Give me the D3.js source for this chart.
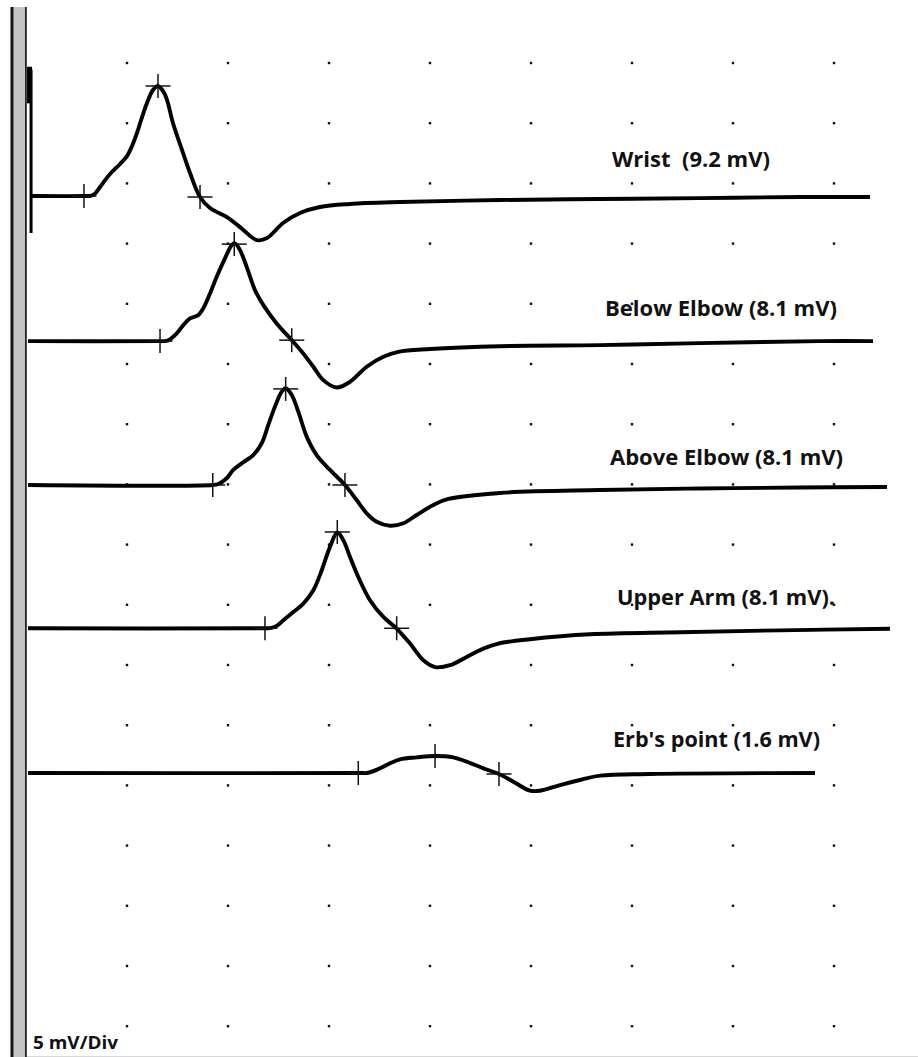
<!DOCTYPE html>
<html>
<head>
<meta charset="utf-8">
<script src="https://cdn.jsdelivr.net/npm/d3@7"></script>
<style>
  html, body { margin: 0; padding: 0; background: #fff; }
  svg { display: block; }
  text { font-family: "Open Sans", "Noto Sans", sans-serif; font-weight: 700; fill: #111; white-space: pre; }
</style>
</head>
<body>
<script>
// ---------------- DATA ----------------
// time in divisions, amplitude in mV (relative to each trace's baseline)
const traceNames = ["Wrist", "Below Elbow", "Above Elbow", "Upper Arm", "Erb's point"];
const traceLabels = ["Wrist  (9.2 mV)", "Below Elbow (8.1 mV)", "Above Elbow (8.1 mV)", "Upper Arm (8.1 mV).", "Erb's point (1.6 mV)"];
const baselineOffsets = [-11.05, -23.1, -35.05, -46.95, -58.97]; // mV, 5 mV/Div display
const sensitivityLabel = "5 mV/Div";

const gridTimes = [1, 2, 3, 4, 5, 6, 7, 8];
const gridLevels = [0, -5, -10, -15, -20, -25, -30, -35, -40, -45, -50, -55, -60, -65, -70, -75, -80];

const wristArtifactTop = [[0.035, 10.74], [0.035, 7.7]];
const wristArtifact = [[0.05, 10.5], [0.05, -3.07]];

const wristTrace = [
  [0.06, 0], [0.574, 0], [0.64, 0.02], [0.683, 0.2], [0.733, 0.75], [0.832, 1.83], [0.931, 2.66], [1.0, 3.32],
  [1.05, 4.16], [1.099, 5.24], [1.149, 6.56], [1.198, 7.73], [1.257, 8.81], [1.307, 9.14],
  [1.356, 8.73], [1.396, 7.98], [1.455, 6.07], [1.545, 3.82], [1.624, 1.91], [1.723, -0.08],
  [1.822, -1.0], [1.99, -1.75], [2.119, -2.58], [2.287, -3.66], [2.386, -3.49], [2.545, -2.24],
  [2.713, -1.41], [2.911, -0.91], [3.208, -0.66], [3.703, -0.5], [4.693, -0.33], [5.683, -0.25],
  [6.673, -0.17], [7.663, -0.08], [8.356, -0.08]
];
const belowElbowTrace = [
  [0.02, 0], [1.327, 0], [1.39, 0.02], [1.426, 0.15], [1.492, 0.64], [1.557, 1.33], [1.624, 1.88], [1.706, 2.16],
  [1.755, 2.72], [1.822, 3.96], [1.888, 5.34], [1.97, 6.87], [2.037, 7.98], [2.069, 8.12],
  [2.119, 7.56], [2.185, 6.17], [2.267, 4.24], [2.35, 2.99], [2.482, 1.47], [2.631, 0.08],
  [2.745, -1.02], [2.845, -2.13], [2.944, -3.24], [3.076, -3.85], [3.208, -3.38], [3.373, -2.13],
  [3.538, -1.3], [3.686, -0.89], [4.0, -0.66], [4.693, -0.42], [5.683, -0.33], [6.673, -0.17],
  [7.861, 0], [8.386, 0]
];
const aboveElbowTrace = [
  [0.02, 0], [1.849, 0], [1.904, 0.08], [1.987, 0.56], [2.052, 1.25], [2.151, 1.89], [2.25, 2.49],
  [2.334, 3.47], [2.399, 4.99], [2.465, 6.51], [2.532, 7.75], [2.571, 8.04], [2.631, 7.48],
  [2.696, 6.1], [2.779, 4.02], [2.878, 2.49], [3.01, 1.25], [3.158, 0], [3.274, -1.25],
  [3.373, -2.35], [3.472, -3.05], [3.604, -3.38], [3.736, -3.18], [3.868, -2.49], [4.033, -1.66],
  [4.181, -1.16], [4.693, -0.66], [5.683, -0.42], [6.673, -0.29], [7.663, -0.21], [8.525, -0.17]
];
const upperArmTrace = [
  [0.02, 0], [2.366, 0], [2.43, 0.03], [2.482, 0.2], [2.548, 0.66], [2.647, 1.35], [2.746, 2.05], [2.845, 3.16],
  [2.928, 4.82], [3.01, 6.76], [3.082, 7.95], [3.142, 7.31], [3.208, 5.92], [3.29, 4.26],
  [3.406, 2.33], [3.538, 0.94], [3.67, -0.02], [3.802, -1.27], [3.934, -2.66], [4.05, -3.22],
  [4.198, -3.07], [4.363, -2.38], [4.528, -1.69], [4.676, -1.27], [4.99, -0.91], [5.584, -0.5],
  [6.475, -0.33], [7.465, -0.17], [8.554, -0.04]
];
const erbsTrace = [
  [0.02, 0], [3.29, 0], [3.389, 0.02], [3.505, 0.39], [3.604, 0.81], [3.703, 1.14], [3.868, 1.3],
  [4.05, 1.41], [4.231, 1.3], [4.363, 0.94], [4.528, 0.39], [4.683, -0.08], [4.825, -0.72],
  [4.99, -1.47], [5.089, -1.47], [5.287, -1.0], [5.485, -0.58], [5.683, -0.22], [6.178, -0.08],
  [7.812, 0]
];
const traces = [wristTrace, belowElbowTrace, aboveElbowTrace, upperArmTrace, erbsTrace];

// cursor markers: onset, peak, end  [time, amplitude]
const wristMarkers = [[0.574, 0], [1.307, 9.14], [1.723, -0.08]];
const belowElbowMarkers = [[1.327, 0], [2.062, 8.06], [2.631, 0.08]];
const aboveElbowMarkers = [[1.849, 0], [2.571, 7.98], [3.158, 0]];
const upperArmMarkers = [[2.366, 0], [3.082, 8.0], [3.67, 0]];
const erbsMarkers = [[3.29, 0], [4.05, 1.41], [4.683, -0.08]];
const markers = [wristMarkers, belowElbowMarkers, aboveElbowMarkers, upperArmMarkers, erbsMarkers];

// ---------------- LAYOUT ----------------
const W = 918, H = 1057;
const labelLayout = [
  {x: 612, y: 167, w: 158},
  {x: 605, y: 316, w: 232},
  {x: 610, y: 465, w: 233},
  {x: 617, y: 605, w: 218},
  {x: 613, y: 747, w: 207}
];

const svg = d3.select("body").append("svg").attr("width", W).attr("height", H);

const x = d3.scaleLinear().domain([0, 8]).range([26, 26 + 8 * 101]);
const y = d3.scaleLinear().domain([0, -80]).range([63, 63 + 16 * 60.2]);

// left frame
svg.append("rect").attr("x", 10.5).attr("y", 7).attr("width", 3.2).attr("height", H - 7).attr("fill", "#111");
svg.append("rect").attr("x", 13.7).attr("y", 7).attr("width", 11.3).attr("height", H - 7).attr("fill", "#c4c4c4");
svg.append("rect").attr("x", 25).attr("y", 7).attr("width", 1.8).attr("height", H - 7).attr("fill", "#222");
svg.append("line").attr("x1", 27).attr("x2", W).attr("y1", 1056.5).attr("y2", 1056.5)
  .attr("stroke", "#d8d8d8").attr("stroke-width", 1);

// grid dots
const dots = [];
gridLevels.forEach(v => gridTimes.forEach(t => dots.push([t, v])));
svg.append("g").selectAll("rect").data(dots).join("rect")
  .attr("x", d => x(d[0]) - 1.2).attr("y", d => y(d[1]) - 1.2)
  .attr("width", 2.4).attr("height", 2.4).attr("fill", "#111");

const line = d3.line().curve(d3.curveCatmullRom.alpha(0.5));

// stimulus artifact on wrist trace
svg.append("path")
  .attr("d", d3.line()(wristArtifactTop.map(p => [x(p[0]), y(baselineOffsets[0] + p[1])])))
  .attr("stroke", "#000").attr("stroke-width", 5).attr("fill", "none");
svg.append("path")
  .attr("d", d3.line()(wristArtifact.map(p => [x(p[0]), y(baselineOffsets[0] + p[1])])))
  .attr("stroke", "#000").attr("stroke-width", 3).attr("fill", "none");

// traces
traces.forEach((tr, i) => {
  const b = baselineOffsets[i];
  svg.append("path")
    .attr("d", line(tr.map(p => [x(p[0]), y(b + p[1])])))
    .attr("fill", "none").attr("stroke", "#000")
    .attr("stroke-width", 3.9).attr("stroke-linejoin", "round").attr("stroke-linecap", "butt");
});

// markers
markers.forEach((ms, i) => {
  const b = baselineOffsets[i];
  const g = svg.append("g").attr("stroke", "#111").attr("stroke-width", 1.5);
  ms.forEach(m => {
    const cx = x(m[0]), cy = y(b + m[1]);
    g.append("line").attr("x1", cx - 12.5).attr("x2", cx + 12.5).attr("y1", cy).attr("y2", cy);
    g.append("line").attr("x1", cx).attr("x2", cx).attr("y1", cy - 12).attr("y2", cy + 12);
  });
});

// labels
traceLabels.forEach((t, i) => {
  const L = labelLayout[i];
  svg.append("text").attr("x", L.x).attr("y", L.y)
    .attr("font-size", 21).attr("textLength", L.w).attr("lengthAdjust", "spacingAndGlyphs")
    .text(t);
});

svg.append("text").attr("x", 33).attr("y", 1049)
  .attr("font-size", 17).attr("textLength", 85).attr("lengthAdjust", "spacingAndGlyphs")
  .text(sensitivityLabel);
</script>
</body>
</html>
